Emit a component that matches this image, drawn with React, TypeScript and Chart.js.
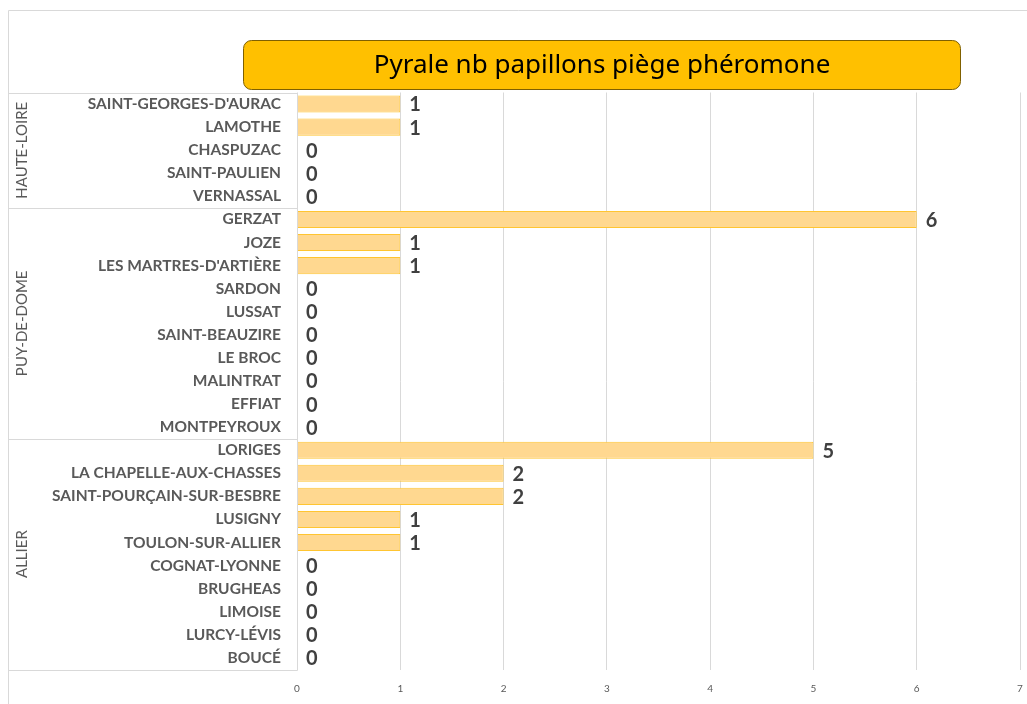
import React, { useEffect, useRef } from "react";
import { Chart, registerables } from "chart.js";

Chart.register(...registerables);

const titleText = "Pyrale nb papillons piège phéromone";

const categories = [
  "SAINT-GEORGES-D'AURAC",
  "LAMOTHE",
  "CHASPUZAC",
  "SAINT-PAULIEN",
  "VERNASSAL",
  "GERZAT",
  "JOZE",
  "LES MARTRES-D'ARTIÈRE",
  "SARDON",
  "LUSSAT",
  "SAINT-BEAUZIRE",
  "LE BROC",
  "MALINTRAT",
  "EFFIAT",
  "MONTPEYROUX",
  "LORIGES",
  "LA CHAPELLE-AUX-CHASSES",
  "SAINT-POURÇAIN-SUR-BESBRE",
  "LUSIGNY",
  "TOULON-SUR-ALLIER",
  "COGNAT-LYONNE",
  "BRUGHEAS",
  "LIMOISE",
  "LURCY-LÉVIS",
  "BOUCÉ",
];

const values = [1, 1, 0, 0, 0, 6, 1, 1, 0, 0, 0, 0, 0, 0, 0, 5, 2, 2, 1, 1, 0, 0, 0, 0, 0];

const groupNames = ["HAUTE-LOIRE", "PUY-DE-DOME", "ALLIER"];
const groupSizes = [5, 10, 10];

const xTickValues = [0, 1, 2, 3, 4, 5, 6, 7];

const LINE = "#d9d9d9";

const decorPlugin = {
  id: "decor",
  beforeDraw(chart: any) {
    const ctx = chart.ctx;
    ctx.save();
    // outer border
    ctx.strokeStyle = LINE;
    ctx.lineWidth = 1;
    ctx.beginPath();
    ctx.moveTo(8.5, 710);
    ctx.lineTo(8.5, 10.5);
    ctx.lineTo(1030, 10.5);
    ctx.stroke();

    // title box
    const x0 = 243.5, y0 = 40.5, w = 717, h = 49, r = 8;
    ctx.beginPath();
    ctx.moveTo(x0 + r, y0);
    ctx.lineTo(x0 + w - r, y0);
    ctx.arcTo(x0 + w, y0, x0 + w, y0 + r, r);
    ctx.lineTo(x0 + w, y0 + h - r);
    ctx.arcTo(x0 + w, y0 + h, x0 + w - r, y0 + h, r);
    ctx.lineTo(x0 + r, y0 + h);
    ctx.arcTo(x0, y0 + h, x0, y0 + h - r, r);
    ctx.lineTo(x0, y0 + r);
    ctx.arcTo(x0, y0, x0 + r, y0, r);
    ctx.closePath();
    ctx.fillStyle = "#FFC000";
    ctx.fill();
    ctx.strokeStyle = "#7F6000";
    ctx.stroke();
    ctx.fillStyle = "#000000";
    ctx.font = "26px 'Noto Sans'";
    ctx.textAlign = "center";
    ctx.textBaseline = "middle";
    ctx.fillText(titleText, x0 + w / 2, y0 + h / 2 + 1);
    ctx.restore();
  },
  afterDraw(chart: any) {
    const ctx = chart.ctx;
    const y = chart.scales.y;
    const area = chart.chartArea;
    const band = y.getPixelForValue(1) - y.getPixelForValue(0);
    ctx.save();
    ctx.strokeStyle = LINE;
    ctx.lineWidth = 1;
    // group box
    let start = 0;
    const topY = Math.round(y.getPixelForValue(0) - band / 2) + 0.5;
    ctx.beginPath();
    ctx.moveTo(8, topY);
    ctx.lineTo(Math.round(area.left) + 0.5, topY);
    ctx.moveTo(Math.round(area.left) + 0.5, topY);
    ctx.lineTo(Math.round(area.left) + 0.5, Math.round(area.bottom) + 0.5);
    ctx.stroke();
    groupNames.forEach((name, gi) => {
      const end = start + groupSizes[gi] - 1;
      const yTop = y.getPixelForValue(start) - band / 2;
      const yBot = y.getPixelForValue(end) + band / 2;
      const yb = Math.round(yBot) + 0.5;
      ctx.beginPath();
      ctx.moveTo(8, yb);
      ctx.lineTo(Math.round(area.left) + 0.5, yb);
      ctx.stroke();
      ctx.save();
      ctx.translate(22, (yTop + yBot) / 2);
      ctx.rotate(-Math.PI / 2);
      ctx.fillStyle = "#595959";
      ctx.font = "15px Lato";
      ctx.textAlign = "center";
      ctx.textBaseline = "middle";
      ctx.fillText(name, 0, 0);
      ctx.restore();
      start = end + 1;
    });
    // data labels
    const meta = chart.getDatasetMeta(0);
    ctx.fillStyle = "#404040";
    ctx.font = "bold 20px Lato";
    ctx.textAlign = "left";
    ctx.textBaseline = "middle";
    meta.data.forEach((bar: any, i: number) => {
      ctx.fillText(String(values[i]), bar.x + 9, bar.y + 1);
    });
    ctx.restore();
  },
};

export default function App() {
  const ref = useRef<HTMLCanvasElement | null>(null);
  useEffect(() => {
    if (!ref.current) return;
    const chart = new Chart(ref.current, {
      type: "bar",
      data: {
        labels: categories,
        datasets: [
          {
            data: values,
            backgroundColor: "#FFD890",
            borderColor: "#FFC531",
            borderWidth: 1,
            categoryPercentage: 1,
            barPercentage: 0.74,
          },
        ],
      },
      options: {
        indexAxis: "y",
        animation: false,
        responsive: false,
        maintainAspectRatio: false,
        layout: { padding: { top: 92.5, right: 7, left: 0, bottom: 0 } },
        plugins: {
          legend: { display: false },
          tooltip: { enabled: false },
          title: { display: false },
        },
        scales: {
          x: {
            type: "linear",
            position: "bottom",
            min: xTickValues[0],
            max: xTickValues[xTickValues.length - 1],
            afterBuildTicks: (scale: any) => {
              scale.ticks = xTickValues.map((v) => ({ value: v }));
            },
            afterFit: (scale: any) => {
              scale.height = 34.5;
            },
            grid: {
              color: LINE,
              lineWidth: 1,
              drawTicks: true,
              tickLength: 13,
              tickColor: "rgba(0,0,0,0)",
            },
            border: { display: false },
            ticks: {
              padding: 0,
              color: "#595959",
              font: { family: "Lato", size: 10 },
            },
          },
          y: {
            type: "category",
            afterFit: (scale: any) => {
              scale.width = 297;
            },
            grid: { display: false, drawTicks: false },
            border: { display: false },
            ticks: {
              padding: 16,
              color: "#595959",
              autoSkip: false,
              font: { family: "Lato", size: 15.5, weight: "bold" },
            },
          },
        },
      },
      plugins: [decorPlugin],
    });
    return () => chart.destroy();
  }, []);
  return (
    <div style={{ position: "fixed", left: 0, top: 0, width: 1027, height: 704, background: "#fff" }}>
      <canvas ref={ref} width={1027} height={704} style={{ display: "block", width: 1027, height: 704 }} />
    </div>
  );
}
